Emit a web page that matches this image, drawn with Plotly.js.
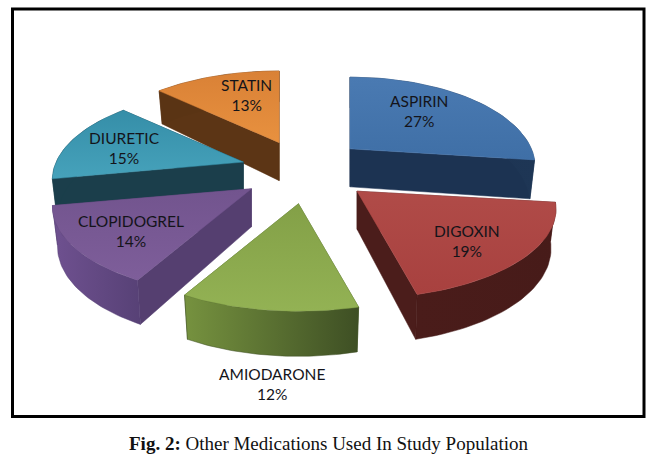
<!DOCTYPE html>
<html>
<head>
<meta charset="utf-8">
<script src="https://cdn.plot.ly/plotly-3.0.1.min.js"></script>
<style>html,body{margin:0;padding:0;background:#fff}#chart{width:657px;height:455px}</style>
</head>
<body>
<div id="chart"></div>
<script>
// ---- data ----
const categories = ["ASPIRIN", "DIGOXIN", "AMIODARONE", "CLOPIDOGREL", "DIURETIC", "STATIN"];
const percents = [27, 19, 12, 14, 15, 13];
const captionBold = "Fig. 2:";
const captionRest = "Other Medications Used In Study Population";

// ---- style ----
const topColors  = [["#3f6fa6","#4a7ab2"],["#a8413f","#b04b48"],["#93b254","#83a047"],["#7e5e9a","#72548e"],["#46a2bb","#358ea8"],["#e8913f","#d98136"]];
const arcColors  = [["#1b3050","#1e3655"],["#4a1c1a","#471b19"],["#76923f","#3e4f24"],["#6f5190","#574176"],["#1b3e4b","#1b3e4b"],["#5a3414","#5a3414"]];
const edgeColors = ["#1c3352","#4b1d1b","#4f6530","#553f70","#1b3e4b","#5c3515"];
const paintOrder = [5, 4, 0, 3, 1, 2];
const labelAt = [[419,111],[467,241],[272,384],[131,231],[124,148],[246,95]];
const radiusScale = [0.93, 1, 1, 1, 0.96, 0.96];
const explodeNudge = [[1,0],[8,0],[2,2],[-4,0],[-3,1],[-1,2]];

// ---- projection of the exploded 3-D pie ----
const C = {x:304, y:170}, R = 195, B = 86, K = 0.2, DEPTH = 38, EX = 60, EY = 32;
const rad = d => d * Math.PI / 180;
const project = (deg, k) => {
  const u = Math.sin(rad(deg)), v = Math.cos(rad(deg)) * -1;
  const s = 1 / (1 - K * v);
  return {x: R * k * u * s, y: B * v * s, v};
};
const total = percents.reduce((a, b) => a + b, 0);
let acc = 0;
const slices = percents.map((p, i) => {
  const a0 = acc / total * 360; acc += p; const a1 = acc / total * 360;
  const mid = (a0 + a1) / 2;
  return {i, a0, a1, tip: {x: C.x + EX * Math.sin(rad(mid)) + explodeNudge[i][0], y: C.y - EY * Math.cos(rad(mid)) + explodeNudge[i][1]}};
});
const down = (tip, p) => ({x: tip.x + p.x * 0.975, y: tip.y + p.y * 0.995 + DEPTH * (1 + 0.2 * p.v)});
const up = (tip, p) => ({x: tip.x + p.x, y: tip.y + p.y});
const arc = (a0, a1, k) => { const out = []; for (let d = a0; d <= a1 + 1e-6; d += (a1 - a0) / 40) out.push(project(d, k)); return out; };
const poly = (pts, colors, type) => ({
  type: "scatter", mode: "lines", x: pts.map(p => p.x), y: pts.map(p => p.y),
  fill: "toself", line: {width: 0.5, color: colors[1]}, hoverinfo: "skip", showlegend: false,
  fillcolor: colors[0],
  fillgradient: {type, colorscale: [[0, colors[0]], [1, colors[1]]]}
});

const traces = [];
paintOrder.forEach(idx => {
  const s = slices[idx], k = radiusScale[idx];
  const tipDown = {x: s.tip.x, y: s.tip.y + DEPTH};
  const edges = [project(s.a0, k), project(s.a1, k)].sort((a, b) => a.v - b.v);
  edges.forEach(e => {
    const pts = [{x: s.tip.x, y: s.tip.y}, up(s.tip, e), down(s.tip, e), tipDown, {x: s.tip.x, y: s.tip.y}];
    traces.push(poly(pts, [edgeColors[idx], edgeColors[idx]], "horizontal"));
  });
  const ring = arc(s.a0, s.a1, k);
  const wall = ring.map(p => up(s.tip, p)).concat(ring.slice().reverse().map(p => down(s.tip, p)));
  wall.push(wall[0]);
  traces.push(poly(wall, arcColors[idx], "horizontal"));
  const face = [{x: s.tip.x, y: s.tip.y}].concat(ring.map(p => up(s.tip, p)), [{x: s.tip.x, y: s.tip.y}]);
  traces.push(poly(face, topColors[idx], "vertical"));
});

const annotations = categories.map((c, i) => ({
  x: labelAt[i][0], y: labelAt[i][1], xref: "x", yref: "y", showarrow: false,
  text: c + "<br>" + percents[i] + "%", align: "center",
  font: {family: "Lato, 'Open Sans', sans-serif", size: 15.5, color: "#14141a"}
}));
annotations.push({
  x: 328, y: 443, xref: "x", yref: "y", showarrow: false,
  text: "<b>" + captionBold + "</b> " + captionRest,
  font: {family: "'Liberation Serif', serif", size: 19, color: "#111"}
});

Plotly.newPlot("chart", traces, {
  width: 657, height: 455, margin: {l: 0, r: 0, t: 0, b: 0},
  paper_bgcolor: "#fff", plot_bgcolor: "#fff", showlegend: false,
  xaxis: {range: [0, 657], visible: false, fixedrange: true},
  yaxis: {range: [455, 0], visible: false, fixedrange: true},
  shapes: [{type: "rect", xref: "x", yref: "y", x0: 12.5, y0: 9, x1: 644, y1: 416.5, line: {color: "#000", width: 3}, fillcolor: "rgba(0,0,0,0)"}],
  annotations
}, {displayModeBar: false, staticPlot: true});
</script>
</body>
</html>
